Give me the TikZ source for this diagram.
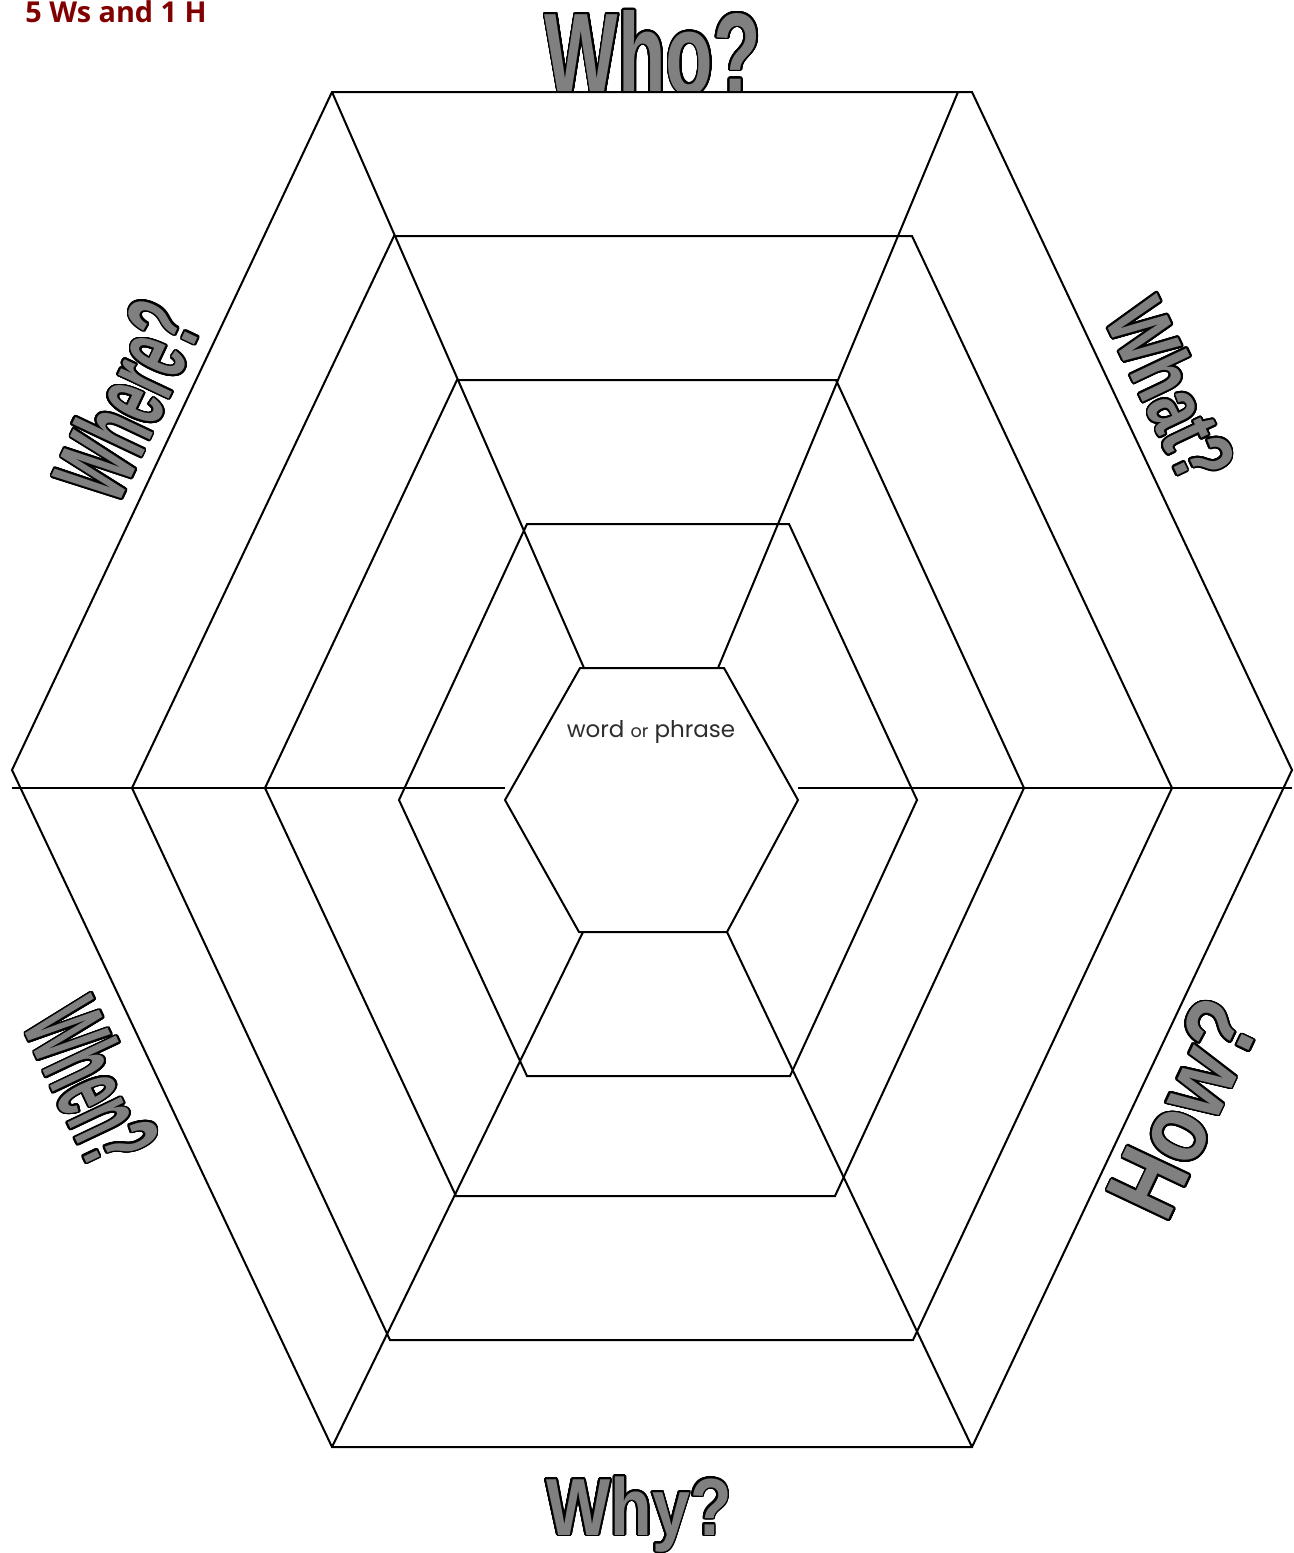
\documentclass[tikz,border=0pt]{standalone}
\usepackage{fontspec}
\setmainfont{Liberation Sans}
\newfontfamily\titlefont{Open Sans}
\newfontfamily\wordfont{Poppins}
\newfontfamily\fWho{Liberation Sans}[FakeStretch=0.671]
\newfontfamily\fWhy{Liberation Sans}[FakeStretch=0.84]
\newfontfamily\fWhere{Liberation Sans}[FakeStretch=0.52]
\newfontfamily\fWhat{Liberation Sans}[FakeStretch=0.72]
\newfontfamily\fWhen{Liberation Sans}[FakeStretch=0.44]
\newfontfamily\fHow{Liberation Sans}[FakeStretch=0.826]
\usepackage{contour}
\contourlength{0.85pt}
\contournumber{32}
\definecolor{lblgray}{RGB}{128,128,128}
\definecolor{ttlred}{RGB}{128,0,0}
\definecolor{wordgray}{RGB}{45,45,45}
\begin{document}
\begin{tikzpicture}[x=0.5pt,y=-0.5pt,
  web/.style={draw=black,line width=1pt,line join=miter},
  wlbl/.style={inner sep=0pt,outer sep=0pt,anchor=base,text=lblgray}]
\useasboundingbox (0,0) rectangle (1294,1553);
% labels (drawn first; the outer hexagon covers the foot of "Who?")
\node[wlbl] (who) at (653,94) {\fWho\bfseries\fontsize{58}{60}\selectfont\contour{black}{Who?}};
\node[wlbl] (why) at (639,1535) {\fWhy\bfseries\fontsize{40.5}{43}\selectfont\contour{black}{Why?}};
\node[wlbl,rotate=64.7] (where) at (161,416) {\fWhere\bfseries\fontsize{53}{55}\selectfont\contour{black}{Where?}};
\node[wlbl,rotate=-64.7] (what) at (1144,404) {\fWhat\bfseries\fontsize{43}{45}\selectfont\contour{black}{What?}};
\node[wlbl,rotate=-64.7] (when) at (57,1100) {\fWhen\bfseries\fontsize{56}{58}\selectfont\contour{black}{When?}};
\node[wlbl,rotate=64.7] (how) at (1215,1123) {\fHow\bfseries\fontsize{50}{52}\selectfont\contour{black}{How?}};
% ring vertices
\coordinate (r0a) at (12,770);  \coordinate (r0b) at (332,92);  \coordinate (r0c) at (972,92);
\coordinate (r0d) at (1292,770); \coordinate (r0e) at (972,1447); \coordinate (r0f) at (332,1447);
\coordinate (r1a) at (132,788); \coordinate (r1b) at (394,236); \coordinate (r1c) at (912,236);
\coordinate (r1d) at (1172,788); \coordinate (r1e) at (913,1340); \coordinate (r1f) at (390,1340);
\coordinate (r2a) at (265,788); \coordinate (r2b) at (457,380); \coordinate (r2c) at (836,380);
\coordinate (r2d) at (1024,788); \coordinate (r2e) at (835,1196); \coordinate (r2f) at (456,1196);
\coordinate (r3a) at (399,800); \coordinate (r3b) at (527,524); \coordinate (r3c) at (789,524);
\coordinate (r3d) at (917,800); \coordinate (r3e) at (790,1076); \coordinate (r3f) at (527,1076);
\coordinate (cha) at (505,800); \coordinate (chb) at (580,668); \coordinate (chc) at (724,668);
\coordinate (chd) at (798,800); \coordinate (che) at (727,932); \coordinate (chf) at (579,932);
% radial ends
\coordinate (urs) at (958,92);  \coordinate (ulc) at (584,668); \coordinate (urc) at (718,668);
\coordinate (llc) at (583,932); \coordinate (lrc) at (727,932);
\coordinate (hl0) at (12,788);  \coordinate (hl1) at (505,788);
\coordinate (hr1) at (798,788); \coordinate (hr0) at (1292,788);
% web
\fill[white] (r0a)--(r0b)--(r0c)--(r0d)--(r0e)--(r0f)--cycle;
\draw[web] (r0a)--(r0b)--(r0c)--(r0d)--(r0e)--(r0f)--cycle;
\draw[web] (r1a)--(r1b)--(r1c)--(r1d)--(r1e)--(r1f)--cycle;
\draw[web] (r2a)--(r2b)--(r2c)--(r2d)--(r2e)--(r2f)--cycle;
\draw[web] (r3a)--(r3b)--(r3c)--(r3d)--(r3e)--(r3f)--cycle;
\draw[web] (cha)--(chb)--(chc)--(chd)--(che)--(chf)--cycle;
\draw[web] (r0b)--(ulc);
\draw[web] (urs)--(urc);
\draw[web] (r0f)--(llc);
\draw[web] (r0e)--(lrc);
\draw[web] (hl0)--(hl1);
\draw[web] (hr1)--(hr0);
% texts
\node[anchor=base west,inner sep=0pt,text=ttlred] (title) at (25,22) {\titlefont\bfseries\fontsize{14.4}{16}\selectfont 5 Ws and 1 H};
\node[anchor=base,inner sep=0pt,text=wordgray] (word) at (651,737) {\wordfont\fontsize{11.5}{13}\selectfont word {\fontsize{8.8}{10}\selectfont or} phrase};
\end{tikzpicture}
\end{document}
